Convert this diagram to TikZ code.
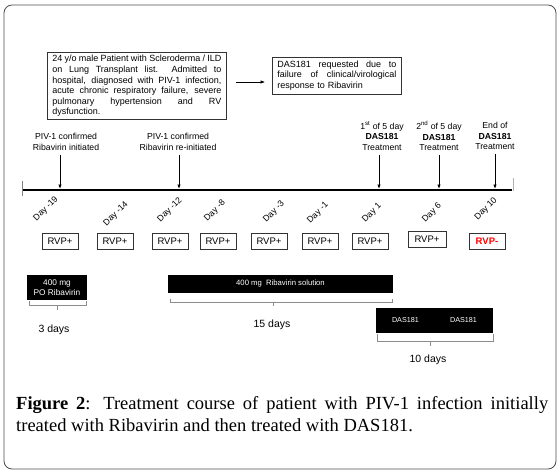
\documentclass[tikz,border=0pt]{standalone}
\usepackage{fontspec}
\setmainfont{Liberation Sans}
\newfontfamily\capfont{Liberation Serif}
\usetikzlibrary{arrows.meta,calc}
\newcommand\jline[2]{\makebox[#1][s]{\spaceskip=0pt\xspaceskip=0pt\relax #2}}
\tikzset{
  arr/.style={-{Latex[length=4.5pt,width=3.5pt]}, line width=0.9pt},
  infobox/.style={draw=black!80, line width=0.7pt, anchor=north west, inner xsep=5pt, inner ysep=3pt, align=left, font=\fontsize{9}{10.6}\selectfont},
  evlbl/.style={align=center, inner sep=1pt, font=\fontsize{8.7}{10.4}\selectfont},
  daylbl/.style={rotate=45, inner sep=0pt, font=\fontsize{8.7}{10}\selectfont},
  rvp/.style={draw=black!80, line width=0.6pt, minimum width=36pt, minimum height=16pt, inner sep=0pt, font=\fontsize{9.5}{10}\selectfont},
  blk/.style={fill=black, text=white, align=center, inner sep=0pt},
  brk/.style={draw=black!45, line width=0.6pt},
  dur/.style={inner sep=0pt, font=\fontsize{10.5}{12}\selectfont},
}
\begin{document}
\begin{tikzpicture}[x=1pt,y=-1pt]
\useasboundingbox (0,0) rectangle (560,474);
\draw[rounded corners=8pt, line width=0.8pt, black!70] (4,5) rectangle (556,469);

% top boxes
\node[infobox, text width=169pt] (hist) at (47,52) {%
\jline{169pt}{24 y/o male Patient with Scleroderma / ILD}\\
\jline{169pt}{on Lung Transplant list.\ \ Admitted to}\\
\jline{169pt}{hospital, diagnosed with PIV-1 infection,}\\
\jline{169pt}{acute chronic respiratory failure, severe}\\
\jline{169pt}{pulmonary hypertension and RV}\\
dysfunction.};
\node[infobox, text width=119pt, inner ysep=3.5pt] (req) at (272,57) {%
\jline{119pt}{DAS181 requested due to}\\
\jline{119pt}{failure of clinical/virological}\\
response to Ribavirin};
\draw[arr, line width=0.6pt] ([xshift=9pt]hist.east |- 0,82) -- ([xshift=-7pt]req.west |- 0,82);

% timeline
\coordinate (tl) at (22,190);
\coordinate (tr) at (512,190);
\draw[line width=2pt] (tl) -- (tr);
\draw[black!50, line width=0.6pt] (22,181) -- (22,196);
\draw[black!30, line width=0.8pt] (513,178) -- (513,191);

\coordinate (a1) at (60,189);
\coordinate (a2) at (179,189);
\coordinate (a3) at (379,189);
\coordinate (a4) at (439,189);
\coordinate (a5) at (495,189);

\node[evlbl] (e1) at (66,142) {PIV-1 confirmed\\Ribavirin initiated};
\node[evlbl] (e2) at (178,142) {PIV-1 confirmed\\Ribavirin re-initiated};
\node[evlbl] (e3) at (382,136) {1\textsuperscript{st} of 5 day\\\textbf{DAS181}\\Treatment};
\node[evlbl] (e4) at (439,136) {2\textsuperscript{nd} of 5 day\\\textbf{DAS181}\\Treatment};
\node[evlbl] (e5) at (495,136) {End of\\\textbf{DAS181}\\Treatment};

\draw[arr] (e1.south -| a1) ++(0,3) -- (a1);
\draw[arr] (e2.south -| a2) ++(0,3) -- (a2);
\draw[arr] (e3.south -| a3) ++(0,3) -- (a3);
\draw[arr] (e4.south -| a4) ++(0,3) -- (a4);
\draw[arr] (e5.south -| a5) ++(0,3) -- (a5);

% day labels
\node[daylbl] (d1) at (46,209) {Day -19};
\node[daylbl] (d2) at (116,214) {Day -14};
\node[daylbl] (d3) at (170,210) {Day -12};
\node[daylbl] (d4) at (215,211) {Day -8};
\node[daylbl] (d5) at (274,212) {Day -3};
\node[daylbl] (d6) at (318,213) {Day -1};
\node[daylbl] (d7) at (372,213) {Day 1};
\node[daylbl] (d8) at (432,213) {Day 6};
\node[daylbl] (d9) at (486,209) {Day 10};

% RVP boxes
\node[rvp] (r1) at (60,241) {RVP+};
\node[rvp] (r2) at (115,241) {RVP+};
\node[rvp] (r3) at (170,241) {RVP+};
\node[rvp] (r4) at (218,241) {RVP+};
\node[rvp] (r5) at (269,241) {RVP+};
\node[rvp] (r6) at (320,241) {RVP+};
\node[rvp] (r7) at (370,241) {RVP+};
\node[rvp, minimum width=38pt] (r8) at (427,239.5) {RVP+};
\node[rvp] (r9) at (487,241.5) {\textcolor{red}{\textbf{RVP-}}};

% treatment bars
\node[blk, minimum width=60pt, minimum height=25pt, font=\fontsize{8.3}{10}\selectfont] (po) at (57,287.5) {400 mg\\PO Ribavirin};
\node[blk, minimum width=225pt, minimum height=18pt, font=\fontsize{7.7}{9}\selectfont] (sol) at (280.5,284) {400 mg \ Ribavirin solution};
\node[blk, minimum width=117pt, minimum height=25pt, font=\fontsize{7.2}{9}\selectfont] (das) at (434.5,320.5) {\makebox[85pt]{DAS181\hfill DAS181}};

% brackets
\draw[brk] ($(po.south west)+(2,1)$) -- ++(0,4) -| ($(po.south east)+(-1,1)$);
\draw[brk] ($(po.south)+(0,5)$) -- ++(0,5);
\draw[brk] ($(sol.south west)+(2,6)$) -- ++(0,3) -| ($(sol.south east)+(-1,6)$);
\draw[brk] ($(sol.south)+(-7,9)$) -- ++(0,4);
\draw[brk] ($(das.south west)+(1,1)$) -- ++(0,7) -| ($(das.south east)+(0,1)$);
\draw[brk] ($(das.south)+(-4,8)$) -- ++(0,5);

\node[dur] (p3) at (54,330) {3 days};
\node[dur] (p15) at (272,325) {15 days};
\node[dur] (p10) at (428,360) {10 days};

% caption
\node[anchor=base west, inner sep=0pt, align=left, font=\capfont\fontsize{18.5}{22}\selectfont] (cap) at (16,431) {%
\jline{532pt}{\textbf{Figure 2}: Treatment course of patient with PIV-1 infection initially}\\
treated with Ribavirin and then treated with DAS181.};
\end{tikzpicture}
\end{document}
